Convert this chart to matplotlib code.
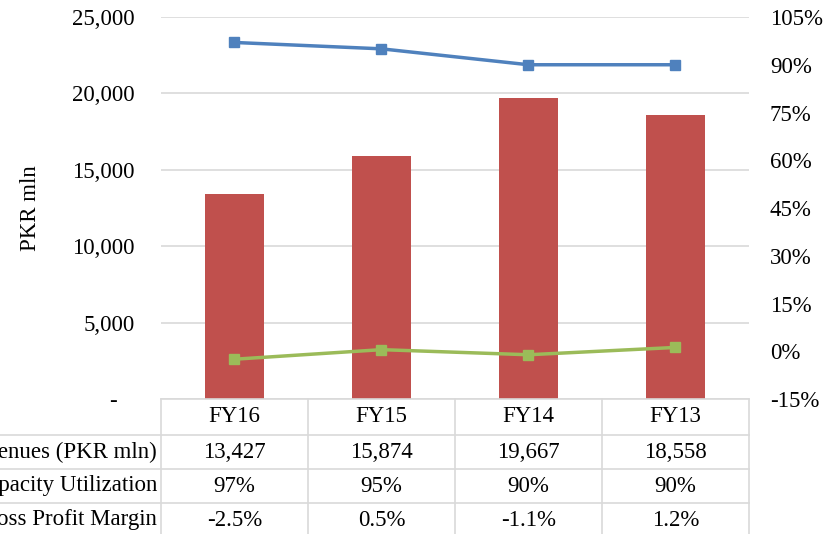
import matplotlib
matplotlib.use("Agg")
import matplotlib.pyplot as plt
from matplotlib.ticker import FuncFormatter

plt.rcParams['font.family'] = ['Liberation Serif', 'DejaVu Serif']

years = ["FY16", "FY15", "FY14", "FY13"]
revenues = [13427, 15874, 19667, 18558]
capacity = [97, 95, 90, 90]
gp_margin = [-2.5, 0.5, -1.1, 1.2]

row_labels = ["Revenues (PKR mln)", "Capacity Utilization", "Gross Profit Margin"]
row_texts = [
    [f"{v:,}" for v in revenues],
    [f"{v}%" for v in capacity],
    [f"{v:.1f}%" for v in gp_margin],
]

red = "#C0504D"
blue = "#4F81BD"
green = "#9BBB59"
grid = "#D9D9D9"
fs = 16.5

W, H = 824, 534
fig = plt.figure(figsize=(W / 100, H / 100), dpi=100)
left, right, top, bottom = 161, 749, 17, 399
ax = fig.add_axes([left / W, 1 - bottom / H, (right - left) / W, (bottom - top) / H])

x = [i + 0.5 for i in range(len(years))]
ax.bar(x, revenues, width=0.40, color=red, zorder=2)
ax.set_xlim(0, len(years))
ax.set_ylim(0, 25000)
ax.set_yticks(range(0, 25001, 5000))
ax.yaxis.set_major_formatter(FuncFormatter(lambda v, p: "-   " if v == 0 else f"{v:,.0f}"))
ax.grid(axis="y", color=grid, linewidth=1.2, zorder=0)
ax.set_axisbelow(True)
ax.set_xticks([])
ax.tick_params(axis="y", length=0, pad=19, labelsize=fs)
for s in ax.spines.values():
    s.set_visible(False)
ax.set_ylabel("PKR mln", fontsize=fs, labelpad=22)

ax2 = ax.twinx()
ax2.plot(x, capacity, color=blue, lw=2.5, marker="s", ms=7, zorder=3)
ax2.plot(x, gp_margin, color=green, lw=2.5, marker="s", ms=7, zorder=3)
ax2.set_ylim(-15, 105)
ax2.set_yticks(range(-15, 106, 15))
ax2.yaxis.set_major_formatter(FuncFormatter(lambda v, p: f"{int(v)}%"))
ax2.tick_params(axis="y", length=0, pad=15, labelsize=fs)
for s in ax2.spines.values():
    s.set_visible(False)

# data table under the plot (row labels run off the left edge, as in the source)
ph = bottom - top
pw = right - left
def fy(py):
    return (bottom - py) / ph
def fx(px):
    return (px - left) / pw

row_edges = [399, 435, 469, 503, 537]
tkw = dict(transform=ax.transAxes, clip_on=False, color=grid, lw=1.2)
ax.plot([0, 1], [0, 0], **tkw)
for ye in row_edges[1:]:
    ax.plot([fx(0), 1], [fy(ye), fy(ye)], **tkw)
for i in range(len(years) + 1):
    ax.plot([i / len(years)] * 2, [0, fy(540)], **tkw)

hy = fy((row_edges[0] + row_edges[1]) / 2)
for i, yr in enumerate(years):
    ax.text((i + 0.5) / len(years), hy, yr, transform=ax.transAxes,
            ha="center", va="center", fontsize=fs)
for r, (lab, vals) in enumerate(zip(row_labels, row_texts)):
    cy = fy((row_edges[r + 1] + row_edges[r + 2]) / 2)
    ax.text(fx(157), cy, lab, transform=ax.transAxes, ha="right", va="center", fontsize=fs)
    for i, v in enumerate(vals):
        ax.text((i + 0.5) / len(years), cy, v, transform=ax.transAxes,
                ha="center", va="center", fontsize=fs)

fig.savefig("out.png", dpi=100)
